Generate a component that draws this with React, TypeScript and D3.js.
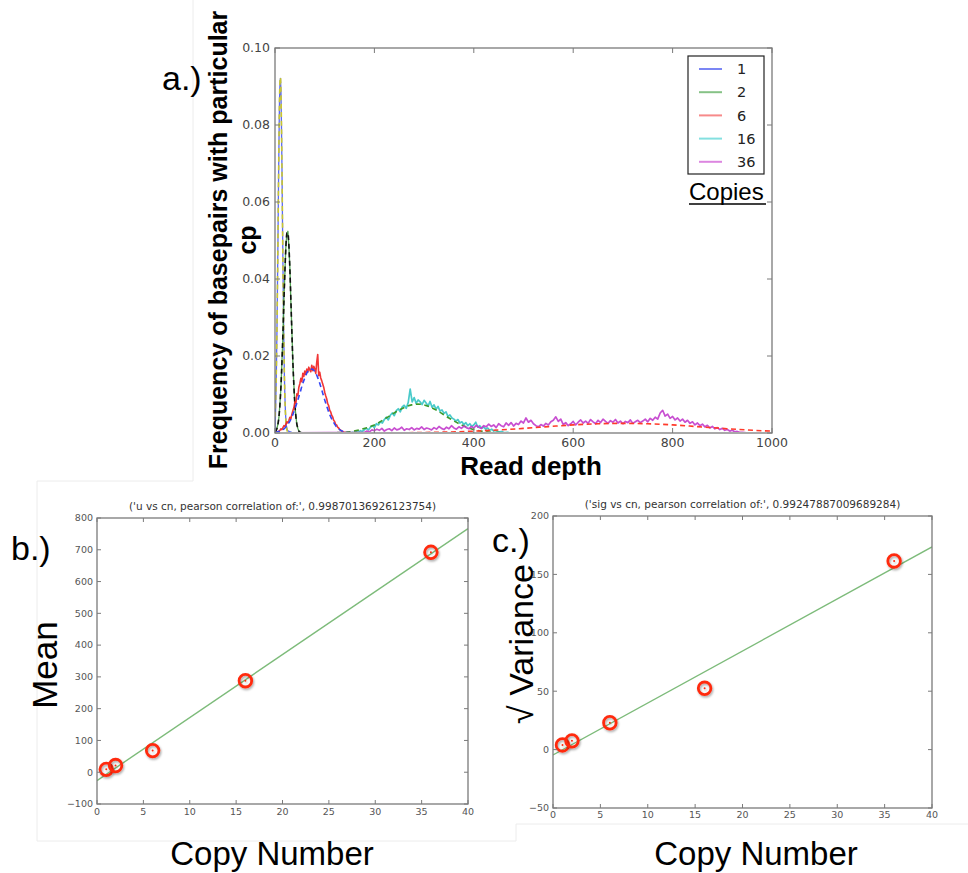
import React from 'react';
import * as d3 from 'd3';

// ---------- a.) read-depth histograms per copy number ----------
const readDepthDomain: [number, number] = [0, 1000];
const freqDomain: [number, number] = [0, 0.1];
const readDepthTicks = [0, 200, 400, 600, 800, 1000];
const freqTicks = [0, 0.02, 0.04, 0.06, 0.08, 0.1];
const copyLabels = ['1', '2', '6', '16', '36'];

// histogram bins: first read depth, bin width, frequency per bin
const cp1Start = 0;
const cp1Step = 1;
const cp1Freq = [0.0006, 0.0048, 0.0108, 0.018, 0.0272, 0.0388, 0.0505, 0.0642, 0.0755, 0.086, 0.091, 0.0921, 0.0887, 0.0798, 0.0692, 0.0558, 0.0437, 0.0312, 0.0222, 0.0141, 0.0092, 0.0055, 0.0031, 0.0018, 0.0011, 0.0007, 0.0006, 0.0005, 0.0004, 0.0004, 0.0003, 0.0003, 0.0002, 0.0002, 0.0001, 0.0001, 0];

const cp2Start = 0;
const cp2Step = 2;
const cp2Freq = [0.0002, 0.0006, 0.0012, 0.0024, 0.0041, 0.0078, 0.0119, 0.0187, 0.0256, 0.0349, 0.0418, 0.0491, 0.0516, 0.0524, 0.0482, 0.0427, 0.0338, 0.0265, 0.0179, 0.0126, 0.0072, 0.0045, 0.0021, 0.0012, 0.0005, 0.0003, 0.0001, 0];

const cp6Start = 0;
const cp6Step = 2;
const cp6Freq = [0, 0.0001, 0.0003, 0.0002, 0.0005, 0.0007, 0.0011, 0.0009, 0.0014, 0.0019, 0.0017, 0.0023, 0.0029, 0.0026, 0.0033, 0.0041, 0.0037, 0.0049, 0.0058, 0.0066, 0.0081, 0.0076, 0.0102, 0.0097, 0.0119, 0.0128, 0.0142, 0.0133, 0.0155, 0.0147, 0.0161, 0.0152, 0.0166, 0.0158, 0.0171, 0.0164, 0.0159, 0.0176, 0.0162, 0.0173, 0.0166, 0.0155, 0.0184, 0.0204, 0.0149, 0.0158, 0.0143, 0.0136, 0.0127, 0.0119, 0.0106, 0.0097, 0.0089, 0.0076, 0.0071, 0.0059, 0.0055, 0.0046, 0.0042, 0.0033, 0.003, 0.0022, 0.0021, 0.0015, 0.0013, 0.0009, 0.0008, 0.0005, 0.0004, 0.0002, 0.0002, 0.0001, 0];

const cp16Start = 152;
const cp16Step = 4;
const cp16Freq = [0, 0.0002, 0.0001, 0.0003, 0.0002, 0.0006, 0.0004, 0.0009, 0.0012, 0.0008, 0.0015, 0.0019, 0.0014, 0.0024, 0.0021, 0.0029, 0.0026, 0.0035, 0.0041, 0.0034, 0.0046, 0.0052, 0.0045, 0.0058, 0.0063, 0.0055, 0.0068, 0.0072, 0.0064, 0.0079, 0.0114, 0.0081, 0.0092, 0.0077, 0.0086, 0.0081, 0.0074, 0.0085, 0.0078, 0.007, 0.0082, 0.0067, 0.0073, 0.0062, 0.0069, 0.0057, 0.006, 0.0051, 0.0055, 0.0043, 0.0047, 0.0039, 0.0036, 0.0031, 0.0035, 0.0026, 0.0029, 0.0022, 0.0027, 0.0019, 0.0024, 0.0017, 0.0021, 0.0028, 0.0015, 0.0019, 0.0012, 0.0016, 0.001, 0.0013, 0.0007, 0.001, 0.0005, 0.0007, 0.0004, 0.0003, 0.0004, 0.0002, 0.0001, 0.0002, 0];

const cp36Start = 180;
const cp36Step = 5;
const cp36Freq = [0.0002, 0.0005, 0.0003, 0.0008, 0.0006, 0.001, 0.0007, 0.0012, 0.0005, 0.0009, 0.0011, 0.0006, 0.0013, 0.0008, 0.001, 0.0015, 0.0007, 0.0011, 0.0009, 0.0014, 0.0008, 0.0012, 0.001, 0.0016, 0.0009, 0.0013, 0.0011, 0.0008, 0.0014, 0.001, 0.0017, 0.0012, 0.0009, 0.0015, 0.0011, 0.0019, 0.0013, 0.001, 0.0016, 0.0012, 0.0018, 0.0014, 0.0011, 0.0017, 0.0013, 0.002, 0.0015, 0.0012, 0.0019, 0.0016, 0.0023, 0.0017, 0.0021, 0.0014, 0.0024, 0.0019, 0.0016, 0.0026, 0.002, 0.0027, 0.0018, 0.0025, 0.0022, 0.0031, 0.0026, 0.0039, 0.0028, 0.0033, 0.0024, 0.0019, 0.0016, 0.0022, 0.0018, 0.0025, 0.0021, 0.0029, 0.0033, 0.0042, 0.003, 0.0036, 0.0022, 0.0027, 0.0019, 0.0024, 0.003, 0.0021, 0.0028, 0.0034, 0.0026, 0.0031, 0.0025, 0.0035, 0.0029, 0.0024, 0.0033, 0.0027, 0.0036, 0.003, 0.0025, 0.0032, 0.0028, 0.0035, 0.0026, 0.0031, 0.0024, 0.003, 0.0027, 0.0034, 0.0025, 0.0029, 0.0033, 0.0027, 0.0031, 0.0036, 0.0029, 0.0038, 0.0033, 0.0041, 0.0036, 0.0052, 0.0059, 0.0044, 0.0049, 0.0038, 0.0043, 0.0034, 0.0039, 0.0031, 0.0036, 0.0028, 0.0033, 0.0025, 0.0029, 0.0021, 0.0026, 0.0019, 0.0023, 0.0016, 0.002, 0.0013, 0.0017, 0.0011, 0.0014, 0.0009, 0.0012, 0.0007, 0.0009, 0.0005, 0.0007, 0.0003, 0.0004, 0.0002, 0.0002, 0.0001, 0];

// fitted curves: [read depth, frequency]
const cp1Fit: [number, number][] = [[0, 0.0042], [1, 0.0073], [2, 0.0119], [3, 0.0186], [4, 0.0275], [5, 0.0384], [6, 0.0509], [7, 0.0639], [8, 0.0759], [9, 0.0856], [10, 0.0913], [11, 0.0923], [12, 0.0884], [13, 0.0802], [14, 0.0689], [15, 0.0561], [16, 0.0433], [17, 0.0316], [18, 0.0219], [19, 0.0144], [20, 0.0089], [21, 0.0053], [22, 0.0029], [23, 0.0016], [24, 0.0008], [25, 0.0004], [26, 0.0002], [28, 0]];
const cp2Fit: [number, number][] = [[0, 0.0002], [2, 0.0005], [4, 0.0012], [6, 0.0023], [8, 0.0043], [10, 0.0075], [12, 0.0122], [14, 0.0184], [16, 0.026], [18, 0.0344], [20, 0.0423], [22, 0.0486], [24, 0.052], [26, 0.052], [28, 0.0486], [30, 0.0423], [32, 0.0344], [34, 0.026], [36, 0.0184], [38, 0.0122], [40, 0.0075], [42, 0.0043], [44, 0.0023], [46, 0.0012], [48, 0.0005], [50, 0.0002], [52, 0.0001], [56, 0]];
const cp6Fit: [number, number][] = [[0, 0.0001], [5, 0.0003], [10, 0.0005], [15, 0.0008], [20, 0.0013], [25, 0.0021], [30, 0.0031], [35, 0.0045], [40, 0.0062], [45, 0.0082], [50, 0.0103], [55, 0.0125], [60, 0.0143], [65, 0.0158], [70, 0.0166], [75, 0.0166], [80, 0.016], [85, 0.0147], [90, 0.0129], [95, 0.0108], [100, 0.0086], [105, 0.0066], [110, 0.0048], [115, 0.0034], [120, 0.0023], [125, 0.0014], [130, 0.0009], [135, 0.0005], [140, 0.0003], [145, 0.0002], [150, 0.0001], [160, 0]];
const cp16Fit: [number, number][] = [[125, 0.0001], [150, 0.0003], [175, 0.001], [200, 0.0021], [225, 0.004], [250, 0.006], [275, 0.0073], [287, 0.0075], [300, 0.0073], [325, 0.0059], [350, 0.0039], [375, 0.0021], [400, 0.0009], [425, 0.0003], [450, 0.0001], [475, 0]];
const cp36Fit: [number, number][] = [[200, 0.00003], [250, 0.00006], [300, 0.00013], [350, 0.00026], [400, 0.00048], [450, 0.00079], [500, 0.0012], [550, 0.00166], [600, 0.0021], [650, 0.0024], [700, 0.0025], [750, 0.0024], [800, 0.0021], [850, 0.00166], [900, 0.0012], [950, 0.00079], [1000, 0.00048]];

// ---------- b.) / c.) per-copy-number summary ----------
const copyNumbers = [1, 2, 6, 16, 36];
const meanDepth = [9, 21, 68, 288, 692];
const sqrtVariance = [4, 7.5, 23, 52.5, 161.5];
const copyTicks = [0, 5, 10, 15, 20, 25, 30, 35, 40];
const meanTicks = [-100, 0, 100, 200, 300, 400, 500, 600, 700, 800];
const sigTicks = [-50, 0, 50, 100, 150, 200];
const meanTitle = "('u vs cn, pearson correlation of:', 0.99870136926123754)";
const sigTitle = "('sig vs cn, pearson correlation of:', 0.99247887009689284)";

const histColors = ['#4a5af2', '#3f9a3f', '#f02020', '#35c4c4', '#c23ccc'];
const histWidths = [1.3, 1.3, 1.6, 1.7, 1.7];
const fitColors = ['#c9c62e', '#111111', '#3346f5', '#3d9a2a', '#ff3a2a'];
const legendColors = ['#7b86f4', '#86c286', '#f78a8a', '#84e0e0', '#dc86e0'];

const SANS = "'Liberation Sans', Arial, sans-serif";
const TICK = "'DejaVu Sans', sans-serif";

function binsToPoints(start: number, step: number, freq: number[]): [number, number][] {
  const pts: [number, number][] = freq.map((f, i) => [start + i * step, f]);
  if (start > readDepthDomain[0]) pts.unshift([readDepthDomain[0], 0]);
  pts.push([readDepthDomain[1], 0]);
  return pts;
}

function linearFit(xs: number[], ys: number[]) {
  const mx = d3.mean(xs)!;
  const my = d3.mean(ys)!;
  const sxy = d3.sum(xs, (x, i) => (x - mx) * (ys[i] - my));
  const sxx = d3.sum(xs, (x) => (x - mx) ** 2);
  const slope = sxy / sxx;
  return { slope, intercept: my - slope * mx };
}

type Box = { left: number; right: number; top: number; bottom: number };

function Frame({ box, x, y, xTicks, yTicks, tickLen }: { box: Box; x: d3.ScaleLinear<number, number>; y: d3.ScaleLinear<number, number>; xTicks: number[]; yTicks: number[]; tickLen: number }) {
  return (
    <g stroke="#7a7a7a" strokeWidth={1}>
      <rect x={box.left} y={box.top} width={box.right - box.left} height={box.bottom - box.top} fill="none" strokeWidth={1.3} />
      {xTicks.map((t) => (
        <g key={'x' + t}>
          <line x1={x(t)} x2={x(t)} y1={box.bottom} y2={box.bottom - tickLen} />
          <line x1={x(t)} x2={x(t)} y1={box.top} y2={box.top + tickLen} />
        </g>
      ))}
      {yTicks.map((t) => (
        <g key={'y' + t}>
          <line x1={box.left} x2={box.left + tickLen} y1={y(t)} y2={y(t)} />
          <line x1={box.right} x2={box.right - tickLen} y1={y(t)} y2={y(t)} />
        </g>
      ))}
    </g>
  );
}

const minusFmt = (v: number) => (v < 0 ? '\u2212' + Math.abs(v) : String(v));

function ScatterPanel({ box, yDomain, yTicks, values, title, titleY, xLabelY }: { box: Box; yDomain: [number, number]; yTicks: number[]; values: number[]; title: string; titleY: number; xLabelY: number }) {
  const x = d3.scaleLinear().domain([0, 40]).range([box.left, box.right]);
  const y = d3.scaleLinear().domain(yDomain).range([box.bottom, box.top]);
  const fit = linearFit(copyNumbers, values);
  const fitLine = d3.line<number>().x((c) => x(c)).y((c) => y(fit.intercept + fit.slope * c));
  const clipId = 'clip' + box.left;
  return (
    <g>
      <defs>
        <clipPath id={clipId}>
          <rect x={box.left} y={box.top} width={box.right - box.left} height={box.bottom - box.top} />
        </clipPath>
      </defs>
      <path d={fitLine(x.domain()) || ''} stroke="#7dbb7a" strokeWidth={1.4} fill="none" clipPath={`url(#${clipId})`} />
      {copyNumbers.map((c, i) => (
        <g key={c} filter="url(#ringShadow)">
          <circle cx={x(c)} cy={y(values[i])} r={6.3} fill="none" stroke="#ff2a10" strokeWidth={2.8} />
          <circle cx={x(c)} cy={y(values[i])} r={1} fill="#ff2a10" />
        </g>
      ))}
      <Frame box={box} x={x} y={y} xTicks={copyTicks} yTicks={yTicks} tickLen={4} />
      <g fontFamily={TICK} fontSize={9.5} fill="#555">
        {yTicks.map((t) => (
          <text key={t} x={box.left - 4} y={y(t)} dy="0.35em" textAnchor="end">{minusFmt(t)}</text>
        ))}
        {copyTicks.map((t) => (
          <text key={t} x={x(t)} y={xLabelY} textAnchor="middle">{t}</text>
        ))}
      </g>
      <text x={(box.left + box.right) / 2} y={titleY} textAnchor="middle" fontFamily={TICK} fontSize={10.5} fill="#333">{title}</text>
    </g>
  );
}

export default function App() {
  const boxA: Box = { left: 275, right: 772, top: 48, bottom: 433 };
  const xA = d3.scaleLinear().domain(readDepthDomain).range([boxA.left, boxA.right]);
  const yA = d3.scaleLinear().domain(freqDomain).range([boxA.bottom, boxA.top]);
  const lineA = d3.line<[number, number]>().x((d) => xA(d[0])).y((d) => yA(d[1]));
  const fitLineA = d3.line<[number, number]>().x((d) => xA(d[0])).y((d) => yA(d[1])).curve(d3.curveMonotoneX);

  const hists = [
    binsToPoints(cp1Start, cp1Step, cp1Freq),
    binsToPoints(cp2Start, cp2Step, cp2Freq),
    binsToPoints(cp6Start, cp6Step, cp6Freq),
    binsToPoints(cp16Start, cp16Step, cp16Freq),
    binsToPoints(cp36Start, cp36Step, cp36Freq),
  ];
  const fits = [cp1Fit, cp2Fit, cp6Fit, cp16Fit, cp36Fit];

  const boxB: Box = { left: 97, right: 468, top: 518, bottom: 804 };
  const boxC: Box = { left: 553, right: 932, top: 516, bottom: 808 };

  const legendX = 688;
  const legendY = 56;
  const legendRow = 23.2;

  return (
    <svg width={968} height={873} style={{ position: 'absolute', left: 0, top: 0, background: '#fff' }}>
      <defs>
        <clipPath id="clipA">
          <rect x={boxA.left} y={boxA.top - 2} width={boxA.right - boxA.left} height={boxA.bottom - boxA.top + 1} />
        </clipPath>
        <filter id="ringShadow" x="-60%" y="-60%" width="220%" height="220%">
          <feDropShadow dx={1} dy={1.5} stdDeviation={1.3} floodColor="#000" floodOpacity={0.35} />
        </filter>
      </defs>
      <rect width={968} height={873} fill="#fff" />

      {/* faint panel borders */}
      <g stroke="#ececec" strokeWidth={1}>
        <line x1={193} x2={193} y1={0} y2={481} />
        <line x1={37} x2={193} y1={481} y2={481} />
        <line x1={37} x2={37} y1={481} y2={841} />
        <line x1={37} x2={516} y1={841} y2={841} />
        <line x1={516} x2={516} y1={824} y2={841} />
        <line x1={516} x2={968} y1={824} y2={824} />
      </g>

      {/* a.) histograms with fitted curves */}
      <g clipPath="url(#clipA)" fill="none">
        {hists.map((h, i) => (
          <g key={i}>
            <path d={lineA(h) || ''} stroke={histColors[i]} strokeWidth={histWidths[i]} strokeOpacity={0.9} strokeLinejoin="round" />
            <path d={fitLineA(fits[i]) || ''} stroke={fitColors[i]} strokeWidth={1.6} strokeDasharray="5,3.5" />
          </g>
        ))}
      </g>
      <Frame box={boxA} x={xA} y={yA} xTicks={readDepthTicks} yTicks={freqTicks} tickLen={5} />
      <g fontFamily={TICK} fontSize={12.5} fill="#444">
        {freqTicks.map((t) => (
          <text key={t} x={boxA.left - 5} y={yA(t)} dy="0.35em" textAnchor="end">{d3.format('.2f')(t)}</text>
        ))}
        {readDepthTicks.map((t) => (
          <text key={t} x={xA(t)} y={447} textAnchor="middle">{t}</text>
        ))}
      </g>

      {/* legend */}
      <rect x={legendX} y={legendY} width={76} height={118} fill="#fff" stroke="#222" strokeWidth={1.2} />
      {copyLabels.map((lab, i) => (
        <g key={lab}>
          <line x1={legendX + 11} x2={legendX + 34} y1={legendY + 13 + i * legendRow} y2={legendY + 13 + i * legendRow} stroke={legendColors[i]} strokeWidth={2} />
          <text x={legendX + 49} y={legendY + 13 + i * legendRow} dy="0.36em" fontFamily={TICK} fontSize={14.5} fill="#222">{lab}</text>
        </g>
      ))}
      <text x={689} y={200} fontFamily={SANS} fontSize={24} fill="#000">Copies</text>
      <line x1={689} x2={766} y1={204} y2={204} stroke="#000" strokeWidth={1.5} />

      <text x={531} y={475} textAnchor="middle" fontFamily={SANS} fontWeight="bold" fontSize={26} fill="#000">Read depth</text>
      <text transform="translate(227,240) rotate(-90)" textAnchor="middle" fontFamily={SANS} fontWeight="bold" fontSize={25} fill="#000">Frequency of basepairs with particular</text>
      <text transform="translate(256,240) rotate(-90)" textAnchor="middle" fontFamily={SANS} fontWeight="bold" fontSize={25} fill="#000">cp</text>
      <text x={162} y={90} fontFamily={SANS} fontSize={34} fill="#000">a.)</text>

      {/* b.) mean vs copy number */}
      <ScatterPanel box={boxB} yDomain={[-100, 800]} yTicks={meanTicks} values={meanDepth} title={meanTitle} titleY={510} xLabelY={815} />
      <text x={11} y={560} fontFamily={SANS} fontSize={34} fill="#000">b.)</text>
      <text transform="translate(57,665) rotate(-90)" textAnchor="middle" fontFamily={SANS} fontSize={35} fill="#000">Mean</text>
      <text x={272} y={865} textAnchor="middle" fontFamily={SANS} fontSize={33} fill="#000">Copy Number</text>

      {/* c.) sqrt(variance) vs copy number */}
      <ScatterPanel box={boxC} yDomain={[-50, 200]} yTicks={sigTicks} values={sqrtVariance} title={sigTitle} titleY={508} xLabelY={818} />
      <text x={492} y={552} fontFamily={SANS} fontSize={34} fill="#000">c.)</text>
      <text transform="translate(533,644) rotate(-90)" textAnchor="middle" fontFamily={SANS} fontSize={34} fill="#000">{'\u221A Variance'}</text>
      <text x={756} y={865} textAnchor="middle" fontFamily={SANS} fontSize={33} fill="#000">Copy Number</text>
    </svg>
  );
}
